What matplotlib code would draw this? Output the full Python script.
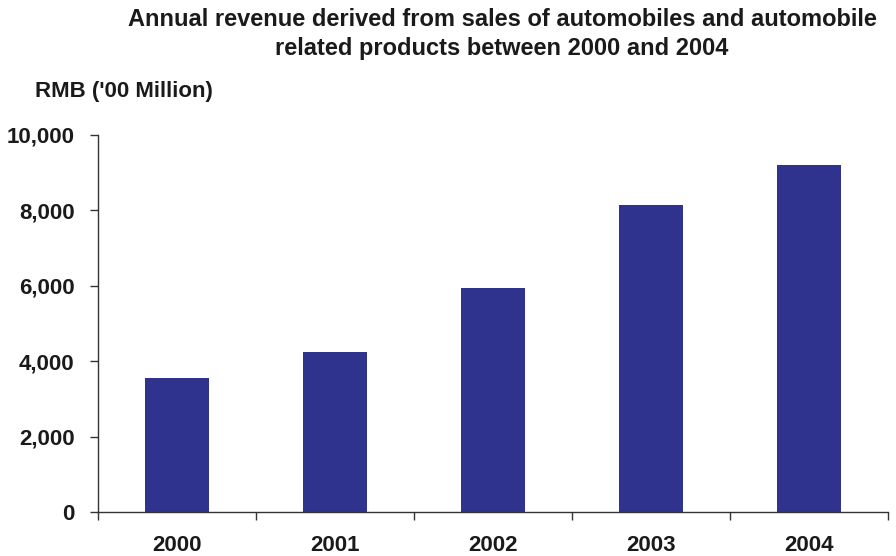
import matplotlib
matplotlib.use("Agg")
import matplotlib.pyplot as plt
from matplotlib.ticker import FuncFormatter, FixedLocator

# Data
years = ["2000", "2001", "2002", "2003", "2004"]
revenue = [3550, 4240, 5940, 8140, 9200]

bar_color = "#2F338E"
text_color = "#1a1a1a"

plt.rcParams["font.family"] = ["Liberation Sans", "DejaVu Sans"]
plt.rcParams["font.weight"] = "bold"

fig = plt.figure(figsize=(8.96, 5.56), dpi=100)
ax = fig.add_axes([98 / 896, 1 - 512 / 556, 790 / 896, 377 / 556])

x = range(len(years))
ax.bar(x, revenue, width=0.405, color=bar_color, zorder=2)

ax.set_xlim(-0.5, len(years) - 0.5)
ax.set_ylim(0, 10000)
ax.set_yticks(range(0, 10001, 2000))
ax.yaxis.set_major_formatter(FuncFormatter(lambda v, p: f"{int(v):,}"))

# category labels centred, tick marks between categories
ax.set_xticks(list(x))
ax.set_xticklabels(years)
ax.tick_params(axis="x", which="major", length=0, pad=16.5)
ax.xaxis.set_minor_locator(FixedLocator([i + 0.5 for i in range(-1, len(years))]))
ax.tick_params(axis="x", which="minor", length=6, width=1, direction="out", color="#333333")
ax.tick_params(axis="y", length=6, width=1, direction="out", color="#333333", pad=11)

for lab in ax.get_xticklabels() + ax.get_yticklabels():
    lab.set_fontsize(16)
    lab.set_fontweight("bold")
    lab.set_color(text_color)

for side in ["top", "right"]:
    ax.spines[side].set_visible(False)
for side in ["left", "bottom"]:
    ax.spines[side].set_color("#333333")
    ax.spines[side].set_linewidth(1)

fig.text(502 / 896, 1 - 34 / 556,
         "Annual revenue derived from sales of automobiles and automobile\nrelated products between 2000 and 2004",
         ha="center", va="center", fontsize=17, fontweight="bold", color=text_color,
         linespacing=1.3)
fig.text(35 / 896, 1 - 92 / 556, "RMB ('00 Million)", ha="left", va="center",
         fontsize=16, fontweight="bold", color=text_color)

fig.savefig("out.png", dpi=100, facecolor="white")
